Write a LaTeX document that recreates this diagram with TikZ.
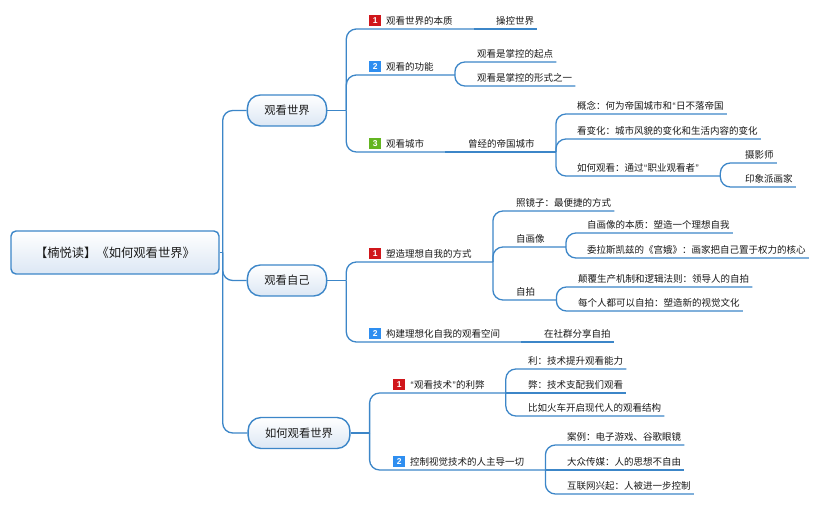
\documentclass[tikz,border=0pt]{standalone}
\usepackage{fontspec}
\setmainfont{Noto Sans CJK SC}
\newfontfamily\digfont{Liberation Sans}
\usetikzlibrary{calc}
\definecolor{lc}{HTML}{3C86C8}
\definecolor{txt}{HTML}{1A1A1A}
\definecolor{lob}{HTML}{DCE7F4}
\definecolor{bred}{HTML}{D0161B}
\definecolor{bblue}{HTML}{2E8EF0}
\definecolor{bgreen}{HTML}{63B521}
\newcommand\mmbadge[2]{\raisebox{0.6pt}{\setlength{\fboxsep}{0pt}\colorbox{#1}{\makebox[12pt]{\rule[-2.6pt]{0pt}{11pt}\color{white}\digfont\bfseries\fontsize{8.5}{8.5}\selectfont #2}}}\hspace*{5pt}}
\newcommand\mmq[1]{{\digfont\kern0.4pt #1\kern0.4pt}}
\newcommand\mmfs{\fontsize{9.5pt}{11pt}\selectfont}
\newcommand\mmnode[5]{\node[tp] (#1) at (#2,#3) {#5}; \coordinate (#1E) at ([xshift=#4pt]#1.south east);}
\newcommand\mmlink[2]{\draw[ln,rounded corners=10pt] (#1E) |- (#2.south west) -- (#2E);}
\newcommand\mmline[2]{\draw[ln] (#1E) -- (#2.south west) -- (#2E);}
\tikzset{
  ln/.style={draw=lc, line width=1.3pt},
  tp/.style={anchor=south west, inner xsep=0pt, inner ysep=3pt, text depth=1.6pt, text height=7.5pt, font=\mmfs, text=txt},
  lone/.style={draw=lc, line width=1.4pt, rounded corners=13pt, top color=white, bottom color=lob, font=\fontsize{11.3pt}{13pt}\selectfont, inner xsep=17pt, minimum height=31pt, text=txt},
  rootbox/.style={draw=lc, line width=1.4pt, rounded corners=5pt, top color=white, bottom color=lob, font=\fontsize{12.3pt}{14pt}\selectfont, minimum width=208pt, minimum height=43pt, text=txt},
}
\begin{document}
\begin{tikzpicture}[x=1pt,y=-1pt]
\useasboundingbox[fill=white] (0,0) rectangle (820,505);
% root and level 1
\node[rootbox] (R) at (115,252.5) {【楠悦读】《如何观看世界》};
\node[lone] (A) at (287,110.5) {观看世界};
\node[lone] (B) at (287,280.5) {观看自己};
\node[lone] (C) at (299,433) {如何观看世界};
\coordinate (RE) at ([xshift=3pt]R.east);
\coordinate (AE) at ([xshift=19pt]A.east);
\coordinate (BE) at ([xshift=19pt]B.east);
\coordinate (CE) at ([xshift=19pt]C.east);
\draw[ln] (R.east) -- (RE);
\draw[ln,rounded corners=10pt] (RE) |- (A.west);
\draw[ln,rounded corners=10pt] (RE) |- (B.west);
\draw[ln,rounded corners=10pt] (RE) |- (C.west);
\draw[ln] (A.east) -- (AE);
\draw[ln] (B.east) -- (BE);
\draw[ln] (C.east) -- (CE);
% group A
\mmnode{AA}{369}{29}{21}{\mmbadge{bred}{1}观看世界的本质}
\mmnode{AAa}{496}{29}{3}{操控世界}
\mmnode{AB}{369}{75}{21}{\mmbadge{bblue}{2}观看的功能}
\mmnode{ABa}{477}{62}{3}{观看是掌控的起点}
\mmnode{ABb}{477}{86}{3}{观看是掌控的形式之一}
\mmnode{AC}{369}{152}{21}{\mmbadge{bgreen}{3}观看城市}
\mmnode{ACa}{468}{152}{21}{曾经的帝国城市}
\mmnode{ACa1}{577}{114}{3}{概念：何为帝国城市和\mmq{“}日不落帝国}
\mmnode{ACa2}{577}{139}{3}{看变化：城市风貌的变化和生活内容的变化}
\mmnode{ACa3}{577}{176}{21}{如何观看：通过\mmq{“}职业观看者\mmq{”}}
\mmnode{ACa3a}{745}{163}{3}{摄影师}
\mmnode{ACa3b}{745}{187}{3}{印象派画家}
\mmlink{A}{AA} \mmline{AA}{AAa}
\mmlink{A}{AB} \mmlink{AB}{ABa} \mmlink{AB}{ABb}
\mmlink{A}{AC} \mmline{AC}{ACa}
\mmlink{ACa}{ACa1} \mmlink{ACa}{ACa2} \mmlink{ACa}{ACa3}
\mmlink{ACa3}{ACa3a} \mmlink{ACa3}{ACa3b}
% group B
\mmnode{BA}{369}{262}{21}{\mmbadge{bred}{1}塑造理想自我的方式}
\mmnode{BAa}{516}{211}{3}{照镜子：最便捷的方式}
\mmnode{BAb}{516}{247}{21}{自画像}
\mmnode{BAb1}{587}{233}{3}{自画像的本质：塑造一个理想自我}
\mmnode{BAb2}{587}{258}{3}{委拉斯凯兹的《宫娥》：画家把自己置于权力的核心}
\mmnode{BAc}{516}{300}{21}{自拍}
\mmnode{BAc1}{578}{287}{3}{颠覆生产机制和逻辑法则：领导人的自拍}
\mmnode{BAc2}{578}{311}{3}{每个人都可以自拍：塑造新的视觉文化}
\mmnode{BB}{369}{342}{21}{\mmbadge{bblue}{2}构建理想化自我的观看空间}
\mmnode{BBa}{544}{342}{3}{在社群分享自拍}
\mmlink{B}{BA} \mmlink{BA}{BAa} \mmlink{BA}{BAb} \mmlink{BA}{BAc}
\mmlink{BAb}{BAb1} \mmlink{BAb}{BAb2}
\mmlink{BAc}{BAc1} \mmlink{BAc}{BAc2}
\mmlink{B}{BB} \mmline{BB}{BBa}
% group C
\mmnode{CA}{393}{393}{21}{\mmbadge{bred}{1}\mmq{“}观看技术\mmq{”}的利弊}
\mmnode{CAa}{528}{369}{3}{利：技术提升观看能力}
\mmnode{CAb}{528}{393}{3}{弊：技术支配我们观看}
\mmnode{CAc}{528}{416}{3}{比如火车开启现代人的观看结构}
\mmnode{CB}{393}{470}{21}{\mmbadge{bblue}{2}控制视觉技术的人主导一切}
\mmnode{CBa}{567}{445}{3}{案例：电子游戏、谷歌眼镜}
\mmnode{CBb}{567}{470}{3}{大众传媒：人的思想不自由}
\mmnode{CBc}{567}{494}{3}{互联网兴起：人被进一步控制}
\mmlink{C}{CA} \mmlink{CA}{CAa} \mmline{CA}{CAb} \mmlink{CA}{CAc}
\mmlink{C}{CB} \mmlink{CB}{CBa} \mmline{CB}{CBb} \mmlink{CB}{CBc}
\end{tikzpicture}
\end{document}
